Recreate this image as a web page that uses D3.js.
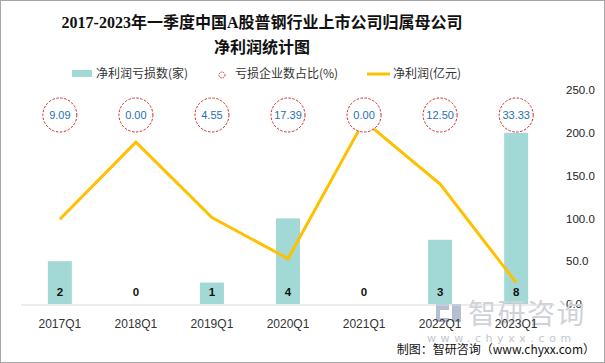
<!DOCTYPE html>
<html><head><meta charset="utf-8">
<script src="https://cdn.jsdelivr.net/npm/d3@7/dist/d3.min.js"></script>
<style>body{margin:0;background:#fff}svg{display:block}</style>
</head><body>
<script>
const categories = ["2017Q1","2018Q1","2019Q1","2020Q1","2021Q1","2022Q1","2023Q1"];
const lossCount = [2,0,1,4,0,3,8];
const lossPct = ["9.09","0.00","4.55","17.39","0.00","12.50","33.33"];
const netProfit = [99,189,101,53,214,140,25];
const rightTicks = [0,50,100,150,200,250];

const W=605,H=363;
const svg=d3.select("body").append("svg").attr("width",W).attr("height",H);
svg.append("rect").attr("x",0.5).attr("y",0.5).attr("width",W-1).attr("height",H-1).attr("fill","#fff").attr("stroke","#a6a6a6");

const cjk='"Noto Sans CJK SC","Microsoft YaHei",sans-serif';
const title=svg.append("text").attr("text-anchor","middle").attr("font-family",'"Liberation Serif","Noto Sans CJK SC",serif').attr("font-weight","bold").attr("font-size",16).attr("fill","#111");
title.append("tspan").attr("x",262).attr("y",28).text("2017-2023年一季度中国A股普钢行业上市公司归属母公司");
title.append("tspan").attr("x",262).attr("y",53).text("净利润统计图");

// legend
const lg=svg.append("g").attr("font-family",cjk).attr("font-size",12).attr("fill","#333");
lg.append("rect").attr("x",72).attr("y",70).attr("width",20).attr("height",7).attr("fill","#a2d8d5");
lg.append("text").attr("x",96).attr("y",78).text("净利润亏损数(家)");
lg.append("circle").attr("cx",222).attr("cy",75).attr("r",3).attr("fill","none").attr("stroke","#d42a2a").attr("stroke-dasharray","1.5,1");
lg.append("text").attr("x",235).attr("y",78).text("亏损企业数占比(%)");
lg.append("line").attr("x1",367).attr("x2",390).attr("y1",74).attr("y2",74).attr("stroke","#ffc000").attr("stroke-width",3);
lg.append("text").attr("x",393).attr("y",78).text("净利润(亿元)");

const x=d3.scaleBand().domain(categories).range([22,554]).paddingInner(0.685).paddingOuter(0.34);
const yR=d3.scaleLinear().domain([0,250]).range([304,90]);
const yL=d3.scaleLinear().domain([0,10]).range([304,90]);

// right axis
const ra=svg.append("g").attr("transform","translate(566,0)").call(d3.axisRight(yR).tickValues(rightTicks).tickFormat(d3.format(".1f")).tickSize(0).tickPadding(0));
ra.select(".domain").remove();
ra.selectAll("text").attr("font-family",'"Liberation Sans",Arial,sans-serif').attr("font-size",11.5).attr("fill","#222");

// bars
svg.append("g").selectAll("rect").data(lossCount).join("rect")
 .attr("x",(d,i)=>x(categories[i])).attr("width",x.bandwidth())
 .attr("y",d=>yL(d)).attr("height",d=>yL(0)-yL(d)).attr("fill","#a2d8d5");

// watermark (behind labels)
const wm=svg.append("g");
wm.append("path").attr("d","M436,304H449V310H440V318H449V322H436Z M452,304H461V322H452Z").attr("fill","#b4c0d2");
wm.append("text").attr("x",468).attr("y",324).attr("font-family",cjk).attr("font-size",28).attr("fill","#cfd3d8").attr("letter-spacing",1.5).text("智研咨询");
wm.append("text").attr("x",427).attr("y",342).attr("font-family",'"DejaVu Sans",sans-serif').attr("font-size",11).attr("fill","#c2c7cd").attr("letter-spacing",4.6).text("www.chyxx.com");

// baseline axis
const xa=svg.append("g").attr("transform","translate(0,305)").call(d3.axisBottom(x).tickSize(0).tickPadding(14));
xa.select(".domain").attr("stroke","#d9d9d9").attr("d","M21,0H555");
xa.selectAll("text").attr("font-family",'"Liberation Sans",Arial,sans-serif').attr("font-size",12).attr("fill","#333");

// line
const line=d3.line().x((d,i)=>x(categories[i])+x.bandwidth()/2).y(d=>yR(d));
svg.append("path").datum(netProfit).attr("d",line).attr("fill","none").attr("stroke","#ffc000").attr("stroke-width",3);

// bar labels
svg.append("g").selectAll("text").data(lossCount).join("text")
 .attr("x",(d,i)=>x(categories[i])+x.bandwidth()/2).attr("y",296).attr("text-anchor","middle")
 .attr("font-family",'"Liberation Sans",Arial,sans-serif').attr("font-weight","bold").attr("font-size",11.5).attr("fill","#111").text(d=>d);

// pct circles
const pc=svg.append("g").selectAll("g").data(lossPct).join("g")
 .attr("transform",(d,i)=>`translate(${x(categories[i])+x.bandwidth()/2},115)`);
pc.append("circle").attr("r",17).attr("fill","#fff").attr("stroke","#d42a2a").attr("stroke-dasharray","2.5,1.5");
pc.append("text").attr("y",4).attr("text-anchor","middle").attr("font-family",'"Liberation Sans",Arial,sans-serif').attr("font-size",11).attr("fill","#1f6fb4").text(d=>d);

svg.append("text").attr("x",595).attr("y",354).attr("text-anchor","end").attr("font-family",cjk).attr("font-size",12).attr("fill","#111").text("制图：智研咨询（www.chyxx.com）");
</script>
</body></html>
